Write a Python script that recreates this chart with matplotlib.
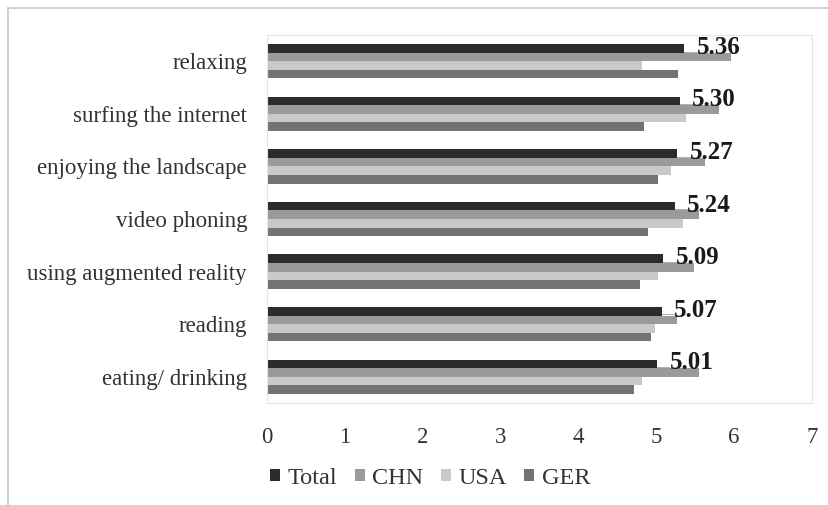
import matplotlib
matplotlib.use("Agg")
import matplotlib.pyplot as plt
import numpy as np
from matplotlib.lines import Line2D

plt.rcParams['font.family'] = ['Liberation Serif', 'DejaVu Serif']

categories = ["relaxing", "surfing the internet", "enjoying the landscape",
              "video phoning", "using augmented reality", "reading", "eating/ drinking"]
series_names = ["Total", "CHN", "USA", "GER"]
total = [5.36, 5.30, 5.27, 5.24, 5.09, 5.07, 5.01]
chn = [5.96, 5.81, 5.63, 5.55, 5.48, 5.27, 5.55]
usa = [4.82, 5.38, 5.19, 5.35, 5.03, 4.99, 4.82]
ger = [5.28, 4.84, 5.02, 4.89, 4.79, 4.94, 4.71]
x_ticks = [0, 1, 2, 3, 4, 5, 6, 7]

colors = ["#2b2b2b", "#9a9a9a", "#c9c9c9", "#737373"]
series = [total, chn, usa, ger]

fig = plt.figure(figsize=(8.29, 5.05), dpi=100)
ax = fig.add_axes([266.5 / 829, 1 - 403 / 505, (812 - 266.5) / 829, (403 - 35) / 505])

n = len(categories)
y = np.arange(n)
h = 0.163
for i, (vals, col, name) in enumerate(zip(series, colors, series_names)):
    offs = (i - 1.5) * h
    ax.barh(y + offs, vals, height=h, color=col, label=name, edgecolor='none')

# value labels for the Total series, with a short leader line
for yi, v in zip(y, total):
    yy = yi - 1.5 * h
    ax.plot([v, v + 0.16], [yy + 0.06, yy + 0.06], color="#a0a0a0", lw=0.6)
    ax.text(v + 0.16, yy - 0.02, f"{v:.2f}", va='center', ha='left', fontsize=18,
            fontweight='bold', color="#1a1a1a")

ax.set_xlim(0, 7)
ax.set_ylim(n - 0.5, -0.5)
ax.set_xticks(x_ticks)
ax.set_xticklabels([str(t) for t in x_ticks], fontsize=16.5, color="#333333")
ax.set_yticks(y)
ax.set_yticklabels(categories, fontsize=16.5, color="#333333")
ax.tick_params(axis='both', length=0)
ax.tick_params(axis='y', pad=14)
ax.tick_params(axis='x', pad=17)
for s in ax.spines.values():
    s.set_color("#e6e6e6")
    s.set_linewidth(0.8)

leg = fig.legend(loc='center', bbox_to_anchor=(430 / 829, 1 - 478 / 505), ncol=4,
                 frameon=False, fontsize=17.5, handlelength=0.42, handleheight=0.42,
                 handletextpad=0.3, columnspacing=0.72)
for t in leg.get_texts():
    t.set_color("#333333")

# outer frame edges
fig.add_artist(Line2D([8 / 829, 8 / 829], [0, 1 - 8 / 505], transform=fig.transFigure,
                      color="#c8c8c8", lw=1.2))
fig.add_artist(Line2D([8 / 829, 1], [1 - 8 / 505, 1 - 8 / 505], transform=fig.transFigure,
                      color="#c8c8c8", lw=1.2))

fig.savefig("out.png", dpi=100)
